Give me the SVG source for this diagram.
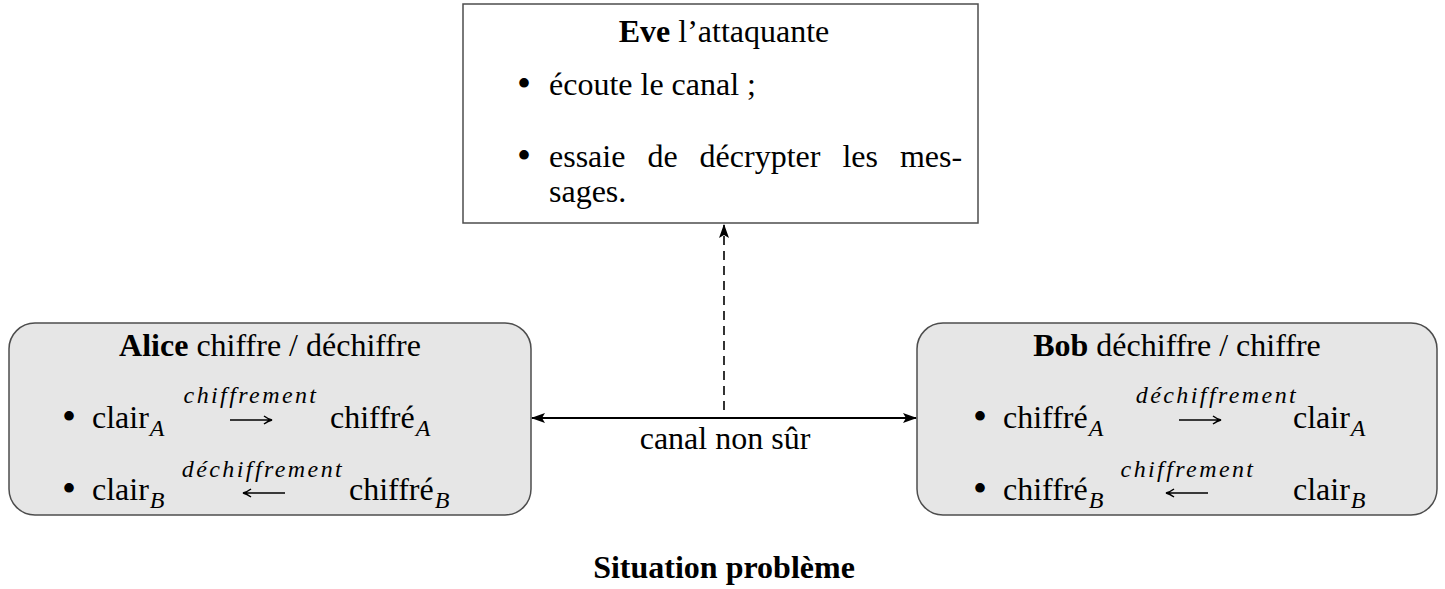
<svg xmlns="http://www.w3.org/2000/svg" width="1445" height="589" viewBox="0 0 1445 589">
<defs>
<style>
.t{font-family:"Liberation Serif","Times New Roman",serif;font-size:32px;fill:#000}
.b{font-weight:bold}
.bu{font-family:"Liberation Serif","Times New Roman",serif;font-size:40px;fill:#000}
.m{font-family:"Liberation Serif","Times New Roman",serif;font-style:italic;font-size:24px;letter-spacing:2.4px;fill:#000}
.s{font-style:italic;font-size:24px}
.box{fill:#e6e6e6;stroke:#4d4d4d;stroke-width:1.5}
.ebox{fill:#fff;stroke:#4d4d4d;stroke-width:1.5}
.ar{stroke:#000;stroke-width:1.5;fill:none}
.conn{stroke:#000;fill:none}
</style>
<marker id="ah" markerUnits="userSpaceOnUse" markerWidth="16" markerHeight="12" refX="13" refY="6" orient="auto-start-reverse">
<path d="M0,1 L14,6 L0,11 L3,6 z" fill="#000"/>
</marker>
</defs>
<rect width="1445" height="589" fill="#fff"/>

<g id="eve">
<rect class="ebox" x="463" y="4" width="515" height="219"/>
<text class="t" x="724" y="42" text-anchor="middle"><tspan class="b">Eve</tspan> l’attaquante</text>
<text class="bu" x="517" y="97">•</text>
<text class="t" x="549" y="95">écoute le canal ;</text>
<text class="bu" x="517" y="169">•</text>
<text class="t" x="549" y="167" word-spacing="14">essaie de décrypter les mes-</text>
<text class="t" x="549" y="202">sages.</text>
</g>

<g id="alice">
<rect class="box" x="9" y="323" width="522" height="192" rx="26"/>
<text class="t" x="270" y="356" text-anchor="middle"><tspan class="b">Alice</tspan> chiffre / déchiffre</text>
<text class="bu" x="62" y="430">•</text>
<text class="t" x="92" y="428">clair<tspan class="s" dx="1" dy="8">A</tspan></text>
<text class="m" x="251" y="403" text-anchor="middle">chiffrement</text>
<path class="ar" d="M230,420 H272 M264,416 Q268,419 272,420 Q268,421 264,424"/>
<text class="t" x="330" y="428">chiffré<tspan class="s" dx="1" dy="8">A</tspan></text>
<text class="bu" x="62" y="502">•</text>
<text class="t" x="92" y="500">clair<tspan class="s" dx="1" dy="8">B</tspan></text>
<text class="m" x="263" y="477" text-anchor="middle">déchiffrement</text>
<path class="ar" d="M243,493 H285 M251,489 Q247,492 243,493 Q247,494 251,497"/>
<text class="t" x="349" y="500">chiffré<tspan class="s" dx="1" dy="8">B</tspan></text>
</g>

<g id="bob">
<rect class="box" x="917" y="323" width="520" height="192" rx="26"/>
<text class="t" x="1177" y="356" text-anchor="middle"><tspan class="b">Bob</tspan> déchiffre / chiffre</text>
<text class="bu" x="973" y="430">•</text>
<text class="t" x="1003" y="428">chiffré<tspan class="s" dx="1" dy="8">A</tspan></text>
<text class="m" x="1217" y="403" text-anchor="middle">déchiffrement</text>
<path class="ar" d="M1179,420 H1221 M1213,416 Q1217,419 1221,420 Q1217,421 1213,424"/>
<text class="t" x="1293" y="428">clair<tspan class="s" dx="1" dy="8">A</tspan></text>
<text class="bu" x="973" y="502">•</text>
<text class="t" x="1003" y="500">chiffré<tspan class="s" dx="1" dy="8">B</tspan></text>
<text class="m" x="1188" y="477" text-anchor="middle">chiffrement</text>
<path class="ar" d="M1166,493 H1208 M1174,489 Q1170,492 1166,493 Q1170,494 1174,497"/>
<text class="t" x="1293" y="500">clair<tspan class="s" dx="1" dy="8">B</tspan></text>
</g>

<g id="connectors">
<line class="conn" x1="532" y1="418" x2="916" y2="418" stroke-width="2" marker-start="url(#ah)" marker-end="url(#ah)"/>
<line class="conn" x1="724" y1="410" x2="724" y2="225" stroke-width="1.6" stroke-dasharray="9 6" marker-end="url(#ah)"/>
<text class="t" x="725" y="449" text-anchor="middle" font-size="34">canal non sûr</text>
</g>

<text class="t b" x="724" y="578" text-anchor="middle">Situation problème</text>
</svg>
